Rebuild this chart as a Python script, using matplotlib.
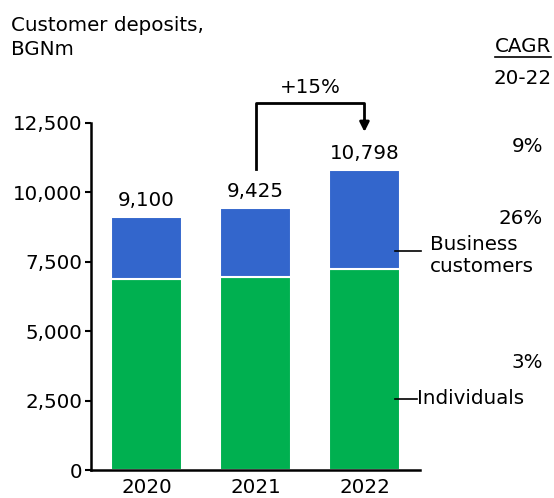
import matplotlib.pyplot as plt
from matplotlib.lines import Line2D

years = ['2020', '2021', '2022']
individuals = [6880, 6960, 7250]
business = [2220, 2465, 3548]
totals = ['9,100', '9,425', '10,798']
cagr_labels = ['9%', '26%', '3%']
growth_label = '+15%'

blue = '#3366cc'
green = '#00b050'
fs = 14.3

plt.rcParams['font.family'] = ['DejaVu Sans']

fig = plt.figure(figsize=(5.54, 4.98), dpi=100)
ax = fig.add_axes([91 / 554, 28 / 498, 329 / 554, 347 / 498])

x = range(len(years))
ax.bar(x, individuals, width=0.65, color=green, edgecolor='white', linewidth=1.5)
ax.bar(x, business, width=0.65, bottom=individuals, color=blue, edgecolor='white', linewidth=1.5)

tops = [a + b for a, b in zip(individuals, business)]
for i, t in enumerate(tops):
    ax.text(i, t + 250, totals[i], ha='center', va='bottom', fontsize=fs)

ax.set_xlim(-0.51, 2.51)
ax.set_ylim(0, 12500)
ax.set_yticks([0, 2500, 5000, 7500, 10000, 12500])
ax.set_yticklabels(['0', '2,500', '5,000', '7,500', '10,000', '12,500'])
ax.set_xticks(list(x))
ax.set_xticklabels(years)
ax.tick_params(axis='y', labelsize=fs, length=4, width=1.5, pad=2)
ax.tick_params(axis='x', labelsize=fs, length=0, pad=6)
for s in ['top', 'right']:
    ax.spines[s].set_visible(False)
ax.spines['left'].set_linewidth(1.8)
ax.spines['bottom'].set_linewidth(1.8)

# growth bracket 2021 -> 2022
ax.plot([1, 1, 2, 2], [tops[1] + 1400, 13220, 13220, 12600], color='black', lw=2, clip_on=False)
ax.annotate('', xy=(2, 12080), xytext=(2, 12700),
            arrowprops=dict(arrowstyle='-|>', color='black', lw=2, mutation_scale=14),
            annotation_clip=False)
ax.text(1.5, 13450, growth_label, ha='center', va='bottom', fontsize=fs)

# segment labels
ax.plot([2.28, 2.52], [7890, 7890], color='black', lw=1.2, clip_on=False)
ax.text(2.6, 8450, 'Business\ncustomers', ha='left', va='top', fontsize=fs, linespacing=1.15)
ax.plot([2.28, 2.48], [2560, 2560], color='black', lw=1.2, clip_on=False)
ax.text(2.48, 2560, 'Individuals', ha='left', va='center', fontsize=fs)

# titles and CAGR column
fig.text(11 / 554, 1 - 16 / 498, 'Customer deposits,\nBGNm', ha='left', va='top', fontsize=fs, linespacing=1.35)
cagr = fig.text(551 / 554, 1 - 47 / 498, 'CAGR', ha='right', va='center', fontsize=fs)
fig.text(552 / 554, 1 - 79 / 498, '20-22', ha='right', va='center', fontsize=fs)
for lab, yp in zip(cagr_labels, [146, 218, 363]):
    fig.text(543 / 554, 1 - yp / 498, lab, ha='right', va='center', fontsize=fs)

fig.canvas.draw()
bb = cagr.get_window_extent().transformed(fig.transFigure.inverted())
fig.add_artist(Line2D([bb.x0, bb.x1], [bb.y0 - 0.002, bb.y0 - 0.002], transform=fig.transFigure,
                      color='black', lw=1.2))

fig.savefig('out.png', dpi=100)
